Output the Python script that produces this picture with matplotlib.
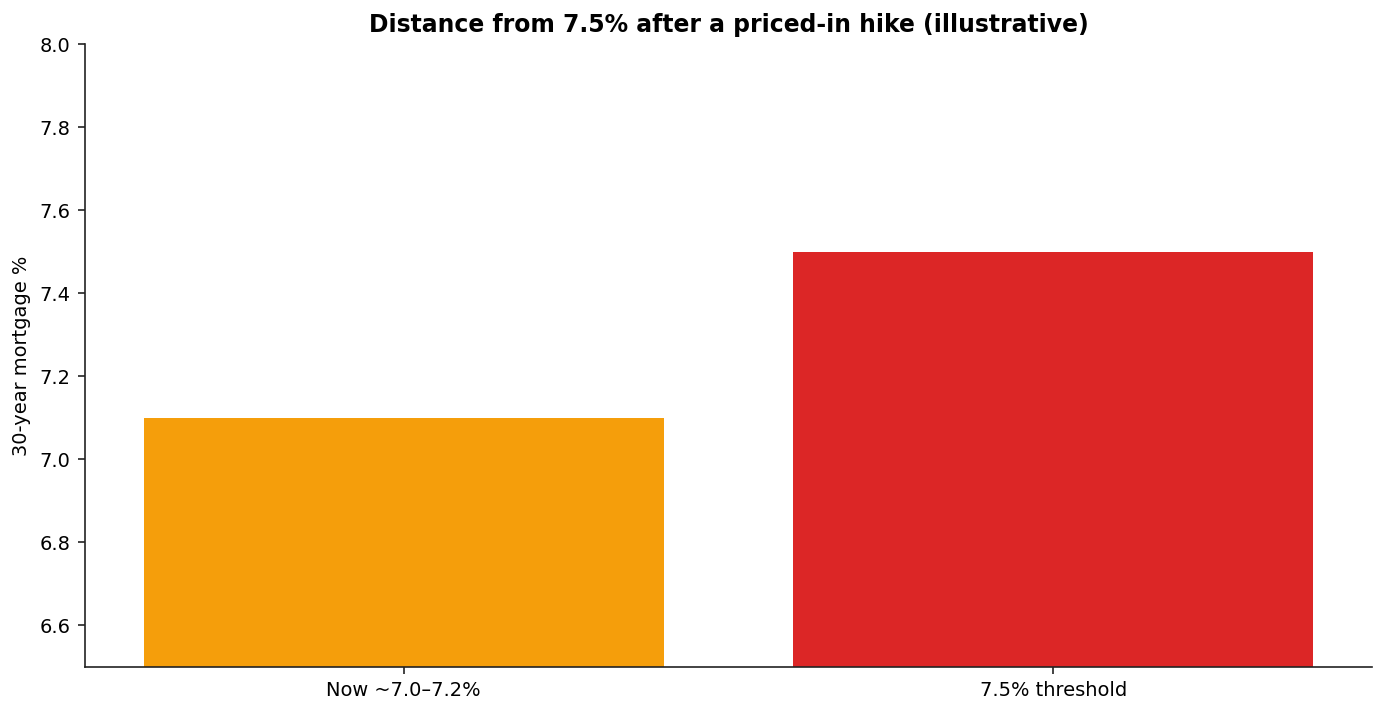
import matplotlib
matplotlib.use('Agg')
import matplotlib.pyplot as plt

# Chart data
categories = ['Now ~7.0\u20137.2%', '7.5% threshold']
rates = [7.1, 7.5]
colors = ['#f59e0b', '#dc2626']

fig, ax = plt.subplots(figsize=(9.233, 4.76), dpi=150)
fig.subplots_adjust(left=0.0615, right=0.9905, top=0.938, bottom=0.066)

ax.bar(categories, rates, color=colors, width=0.8)

ax.set_ylim(6.5, 8.0)
ax.set_ylabel('30-year mortgage %', fontsize=9.3)
ax.set_title('Distance from 7.5% after a priced-in hike (illustrative)',
             fontsize=11.3, fontweight='bold')
ax.tick_params(labelsize=9.3, color='#222222')

for side in ['top', 'right']:
    ax.spines[side].set_visible(False)
for side in ['left', 'bottom']:
    ax.spines[side].set_color('#222222')

fig.savefig('out.png', dpi=150)
